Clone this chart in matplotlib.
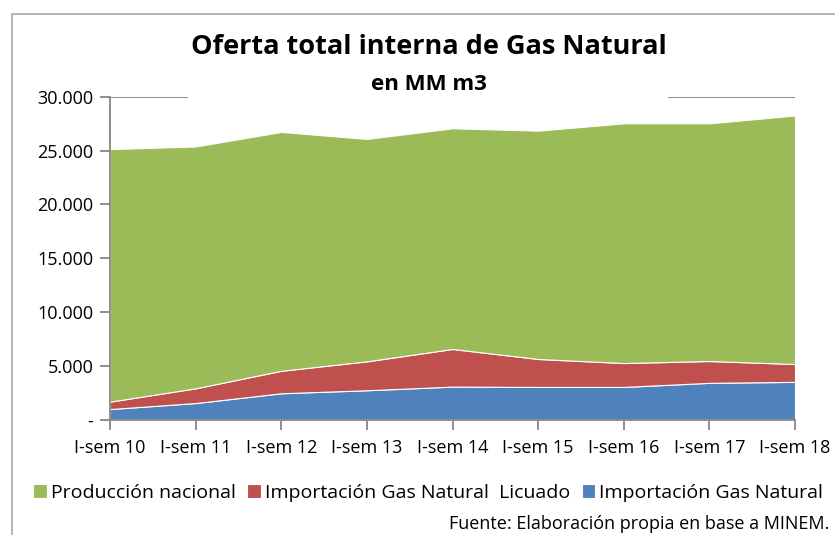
import matplotlib.pyplot as plt
from matplotlib.patches import Rectangle
from matplotlib.ticker import FuncFormatter

# datos (MM m3)
periodos = ['I-sem 10', 'I-sem 11', 'I-sem 12', 'I-sem 13', 'I-sem 14',
            'I-sem 15', 'I-sem 16', 'I-sem 17', 'I-sem 18']
imp_gn = [970, 1530, 2440, 2720, 3060, 3030, 3030, 3410, 3500]
imp_gnl = [690, 1370, 2090, 2690, 3500, 2600, 2220, 2030, 1660]
produccion = [23490, 22500, 22220, 20690, 20530, 21240, 22300, 22110, 23120]

series_nombres = ['Importación Gas Natural', 'Importación Gas Natural  Licuado',
                  'Producción nacional']
colores = ['#4F81BD', '#C0504D', '#9BBB59']

plt.rcParams['font.family'] = ['Open Sans', 'DejaVu Sans']

fig = plt.figure(figsize=(8.35, 5.35), dpi=100)
ax = fig.add_axes([110 / 835, 1 - 419.5 / 535, 685 / 835, 322.5 / 535])

x = list(range(len(periodos)))
polys = ax.stackplot(x, imp_gn, imp_gnl, produccion, colors=colores,
                     edgecolor='white', linewidth=0.8, zorder=2)

ax.set_xlim(0, len(periodos) - 1)
ax.set_ylim(0, 30000)
ax.set_yticks(range(0, 30001, 5000))
ax.yaxis.set_major_formatter(FuncFormatter(
    lambda v, p: '-' if v == 0 else f'{int(v):,}'.replace(',', '.')))
ax.set_xticks(x)
ax.set_xticklabels(periodos)
ax.grid(axis='y', color='#868686', linewidth=1.3, zorder=0)
ax.set_axisbelow(True)

for lado in ['top', 'right']:
    ax.spines[lado].set_visible(False)
for lado in ['left', 'bottom']:
    ax.spines[lado].set_color('#868686')
    ax.spines[lado].set_linewidth(1.3)
ax.tick_params(axis='both', colors='#868686', length=7, width=1.3,
               labelcolor='black', labelsize=13)
ax.tick_params(axis='x', pad=7)
ax.tick_params(axis='y', pad=5)

# titulo con fondo blanco que tapa la linea de 30.000
xc = 0.5 * (187 + 670) / 835
fig.text(xc, 1 - 47 / 535, 'Oferta total interna de Gas Natural',
         ha='center', va='center', fontsize=19.5, fontweight='bold')
fig.text(xc, 1 - 84 / 535, 'en MM m3', ha='center', va='center',
         fontsize=16, fontweight='bold')
fig.patches.append(Rectangle((188 / 835, 1 - 105 / 535), (668 - 188) / 835, 14 / 535,
                             transform=fig.transFigure, facecolor='white',
                             edgecolor='none', zorder=5))

# leyenda
handles = [polys[2], polys[1], polys[0]]
labels = [series_nombres[2], series_nombres[1], series_nombres[0]]
fig.legend(handles, labels, loc='center', bbox_to_anchor=(428 / 835, 1 - 493 / 535),
           ncol=3, frameon=False, fontsize=14, handlelength=0.7, handleheight=0.7,
           handletextpad=0.2, columnspacing=0.6)

fig.text(829 / 835, 1 - 524 / 535, 'Fuente: Elaboración propia en base a MINEM.',
         ha='right', va='center', fontsize=13)

# marco del area del grafico
fig.patches.append(Rectangle((12 / 835, -0.1), 1.0, 1 - 14 / 535 + 0.1,
                             transform=fig.transFigure, facecolor='none',
                             edgecolor='#a8a8a8', linewidth=1.2, zorder=0))

fig.savefig('out.png', dpi=100)
